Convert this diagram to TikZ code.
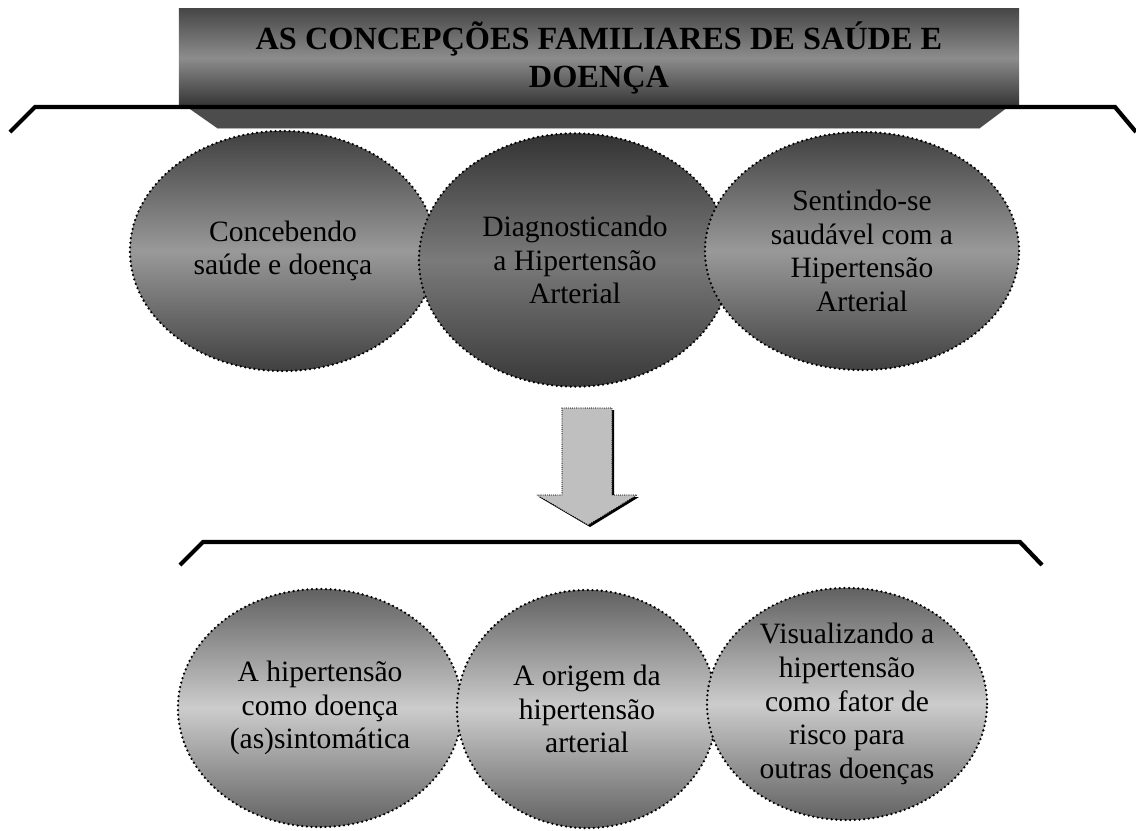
\documentclass[tikz,border=0pt]{standalone}
\usepackage{fontspec}
\setmainfont{Liberation Serif}
\usetikzlibrary{shapes.geometric}

\begin{document}
\begin{tikzpicture}[x=0.025cm,y=-0.025cm]
\tikzstyle{bubble}=[ellipse, draw, line width=1.8pt, dash pattern=on 0pt off 3.3pt, line cap=round, align=center, inner sep=0pt, font=\fontsize{21}{24}\selectfont]
\tikzstyle{dark}=[top color=black!75, bottom color=black!75, middle color=black!40]
\tikzstyle{darker}=[top color=black!80, bottom color=black!78, middle color=black!52]
\tikzstyle{light}=[top color=black!62, bottom color=black!62, middle color=black!20]
\tikzstyle{bracket}=[line width=3pt]
\useasboundingbox (0,0) rectangle (1136,830);

% title
\fill[black!70] (187,107) -- (1008,107) -- (980,128) -- (217,128) -- cycle;
\draw[black!30] (217,128) -- (980,128);
\node[rectangle, minimum width=21cm, minimum height=2.45cm, top color=black!72, bottom color=black!80, middle color=black!45, align=center, font=\fontsize{23}{27}\selectfont\bfseries] (title) at (599,58) {AS CONCEPÇÕES FAMILIARES DE SAÚDE E\\DOENÇA};
\draw[bracket] (10,132) -- (35,107) -- (1115,107) -- (1136,132);

% first row
\node[bubble, dark, minimum width=7.65cm, minimum height=6cm] (e1) at (283,251) {Concebendo\\saúde e doença};
\node[bubble, darker, minimum width=7.8cm, minimum height=6.33cm] (e2) at (575,260) {Diagnosticando\\a Hipertensão\\Arterial};
\node[bubble, dark, minimum width=7.85cm, minimum height=5.95cm] (e3) at (862,251) {Sentindo-se\\saudável com a\\Hipertensão\\Arterial};

% arrow
\fill[black] (564,410) -- (614,410) -- (614,497) -- (639,497) -- (590,527) -- (539,497) -- (564,497) -- cycle;
\draw[fill=black!25, line width=0.8pt, dash pattern=on 0pt off 1.5pt, line cap=round] (562,408) -- (612,408) -- (612,495) -- (637,495) -- (588,525) -- (537,495) -- (562,495) -- cycle;

% second row
\draw[bracket] (180,565) -- (203,542) -- (1020,542) -- (1042,565);
\node[bubble, light, minimum width=7.1cm, minimum height=5.95cm] (b1) at (320,708) {A hipertensão\\como doença\\(as)sintomática};
\node[bubble, light, minimum width=6.5cm, minimum height=5.95cm] (b2) at (587,709) {A origem da\\hipertensão\\arterial};
\node[bubble, light, minimum width=7cm, minimum height=5.8cm] (b3) at (847,704) {Visualizando a\\hipertensão\\como fator de\\risco para\\outras doenças};
\end{tikzpicture}
\end{document}
